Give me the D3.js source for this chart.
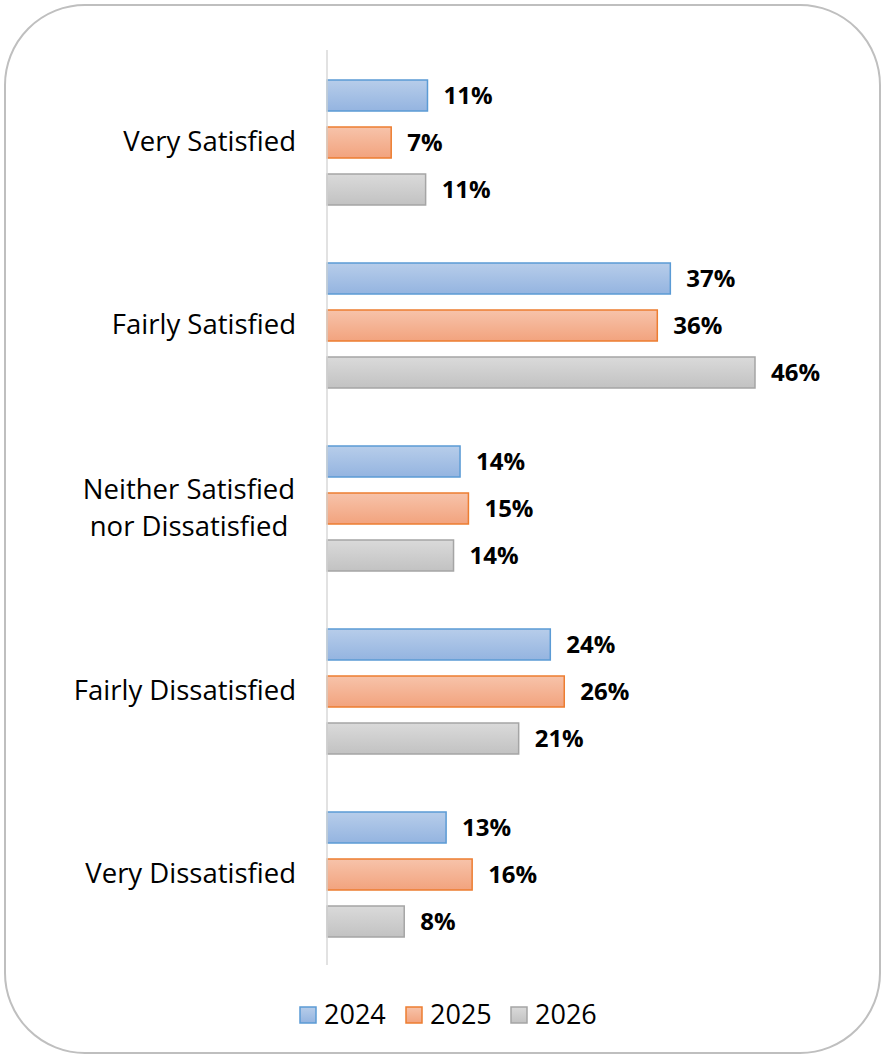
<!DOCTYPE html>
<html><head><meta charset="utf-8">
<script src="https://cdn.jsdelivr.net/npm/d3@7"></script>
<style>body{margin:0;background:#fff;}svg{display:block;}</style>
</head><body>
<script>
const categories = ["Very Satisfied", "Fairly Satisfied", "Neither Satisfied\nnor Dissatisfied", "Fairly Dissatisfied", "Very Dissatisfied"];
const seriesNames = ["2024", "2025", "2026"];
const values2024 = [10.8, 36.9, 14.3, 24.0, 12.8];
const values2025 = [6.9, 35.5, 15.2, 25.5, 15.6];
const values2026 = [10.6, 46.0, 13.6, 20.6, 8.3];
const seriesValues = [values2024, values2025, values2026];

const W = 885, H = 1057;
const svg = d3.select("body").append("svg").attr("width", W).attr("height", H);
const defs = svg.append("defs");
const styles = [
  {top:"#b7cdea", bot:"#94b4e0", stroke:"#5b9bd5"},
  {top:"#f7c3aa", bot:"#f2a37e", stroke:"#ed7d31"},
  {top:"#dadada", bot:"#c2c2c2", stroke:"#a5a5a5"}
];
styles.forEach((s,i)=>{
  const g = defs.append("linearGradient").attr("id","g"+i).attr("x1",0).attr("y1",0).attr("x2",0).attr("y2",1);
  g.append("stop").attr("offset","0%").attr("stop-color",s.top);
  g.append("stop").attr("offset","100%").attr("stop-color",s.bot);
});

svg.append("rect").attr("x",5).attr("y",5).attr("width",875).attr("height",1048)
  .attr("rx",80).attr("ry",80).attr("fill","#fff").attr("stroke","#bfbfbf").attr("stroke-width",2);

const x0 = 327;
const x = d3.scaleLinear().domain([0, 46]).range([x0, 755]);
const y = d3.scaleBand().domain(categories).range([50, 965]).paddingInner(0).paddingOuter(0);
const yInner = d3.scaleBand().domain(seriesNames).range([30, 155]).paddingInner(3 - 125/47).paddingOuter(0);

const font = "'Open Sans', 'Liberation Sans', sans-serif";

seriesNames.forEach((s, si) => {
  svg.append("g").selectAll("rect").data(categories).join("rect")
    .attr("x", x(0))
    .attr("y", c => y(c) + yInner(s))
    .attr("width", (c,ci) => x(seriesValues[si][ci]) - x(0))
    .attr("height", yInner.bandwidth())
    .attr("fill", `url(#g${si})`)
    .attr("stroke", styles[si].stroke).attr("stroke-width", 1.5);
  svg.append("g").selectAll("text").data(categories).join("text")
    .attr("x", (c,ci) => x(seriesValues[si][ci]) + 16)
    .attr("y", c => y(c) + yInner(s) + yInner.bandwidth()/2)
    .attr("dy", "0.35em")
    .attr("font-family", font).attr("font-weight", "bold").attr("font-size", 24).attr("fill", "#000")
    .text((c,ci) => Math.round(seriesValues[si][ci]) + "%");
});

// axis line
svg.append("line").attr("x1", x0).attr("x2", x0).attr("y1", 50).attr("y2", 965)
  .attr("stroke", "#d9d9d9").attr("stroke-width", 1.5);

// category labels
categories.forEach(c => {
  const lines = c.split("\n");
  const cy = y(c) + y.bandwidth()/2;
  const t = svg.append("text").attr("font-family", font).attr("font-size", 27.5).attr("fill", "#000");
  lines.forEach((l, i) => {
    t.append("tspan").attr("x", lines.length > 1 ? 189 : 296).attr("text-anchor", lines.length>1?"middle":"end")
      .attr("y", cy + (i - (lines.length-1)/2) * 37).attr("dy", "0.35em").text(l);
  });
});

// legend
const legX = [300, 406, 511];
seriesNames.forEach((s, i) => {
  svg.append("rect").attr("x", legX[i]).attr("y", 1007).attr("width", 16).attr("height", 16)
    .attr("fill", `url(#g${i})`).attr("stroke", styles[i].stroke).attr("stroke-width", 1.5);
  svg.append("text").attr("x", legX[i] + 24).attr("y", 1015).attr("dy", "0.35em")
    .attr("font-family", font).attr("font-size", 27).attr("fill", "#000").text(s);
});
</script>
</body></html>
